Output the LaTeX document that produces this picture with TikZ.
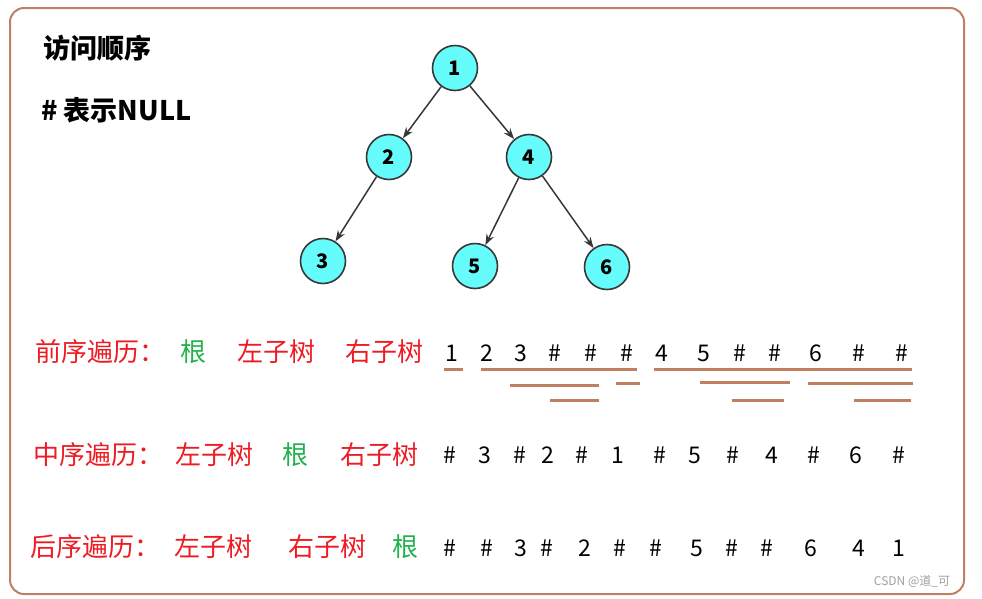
\documentclass[tikz,border=0pt]{standalone}
\usepackage{fontspec}
\setmainfont{Noto Sans CJK SC}
\usetikzlibrary{arrows.meta,positioning}

\definecolor{framebrown}{RGB}{190,128,96}
\definecolor{nodecyan}{RGB}{102,252,252}
\definecolor{edgegray}{RGB}{55,55,55}
\definecolor{labelred}{RGB}{237,28,36}
\definecolor{rootgreen}{RGB}{34,177,76}

\tikzset{
  treenode/.style = {circle, draw = edgegray, line width = 1.6pt, fill = nodecyan,
    minimum size = 45pt, inner sep = 0pt, font = \fontsize{20}{20}\selectfont\bfseries},
  treeedge/.style = {-{Stealth[length = 11pt, width = 8pt]}, draw = edgegray, line width = 1.5pt},
  caption/.style = {anchor = west, inner sep = 0pt, font = \fontsize{27}{27}\selectfont\bfseries},
  rowlabel/.style = {anchor = west, inner sep = 0pt, font = \fontsize{26}{26}\selectfont},
  seqitem/.style = {inner sep = 0pt, font = \fontsize{23}{23}\selectfont},
  span/.style = {draw = framebrown, line width = 3pt},
}

\begin{document}
\begin{tikzpicture}[x = 1pt, y = -1pt]
  \useasboundingbox (0,0) rectangle (982,598);
  \draw[framebrown, line width = 2pt, rounded corners = 14pt] (10,8) rectangle (964,594);

  % Define captions
  \node[caption] (order) at (43,48) {访问顺序};
  \node[caption] (nullnote) at (41,110) {\# 表示NULL};

  % Define tree nodes
  \node[treenode] (n1) at (455,68) {1};
  \node[treenode] (n2) at (389,157) {2};
  \node[treenode] (n4) at (529,157) {4};
  \node[treenode] (n3) at (323,261) {3};
  \node[treenode] (n5) at (475,266) {5};
  \node[treenode] (n6) at (607,267) {6};

  % Draw edges
  \draw[treeedge] (n1) -- (n2);
  \draw[treeedge] (n1) -- (n4);
  \draw[treeedge] (n2) -- (n3);
  \draw[treeedge] (n4) -- (n5);
  \draw[treeedge] (n4) -- (n6);

  % Preorder row
  \node[rowlabel, text = labelred] (pre_lbl) at (35,352) {前序遍历：};
  \node[rowlabel, text = rootgreen] (pre_root) at (180,352) {根};
  \node[rowlabel, text = labelred] (pre_left) at (237,352) {左子树};
  \node[rowlabel, text = labelred] (pre_right) at (345,352) {右子树};
  \foreach \x/\t [count = \i] in {452/1, 487/2, 521/3, 555/\#, 591/\#, 627/\#,
      662/4, 704/5, 740/\#, 775/\#, 816/6, 859/\#, 902/\#}
    \node[seqitem] (pre\i) at (\x,353) {\t};

  % Subtree spans
  \draw[span] (444,369) -- (463,369);
  \draw[span] (481,369) -- (637,369);
  \draw[span] (654,369) -- (912,369);
  \draw[span] (510,385) -- (599,385);
  \draw[span] (616,383) -- (640,383);
  \draw[span] (700,382) -- (790,382);
  \draw[span] (808,383) -- (913,383);
  \draw[span] (550,400) -- (599,400);
  \draw[span] (732,400) -- (784,400);
  \draw[span] (854,400) -- (911,400);

  % Inorder row
  \node[rowlabel, text = labelred] (in_lbl) at (33,455) {中序遍历：};
  \node[rowlabel, text = labelred] (in_left) at (175,455) {左子树};
  \node[rowlabel, text = rootgreen] (in_root) at (282,455) {根};
  \node[rowlabel, text = labelred] (in_right) at (340,455) {右子树};
  \foreach \x/\t [count = \i] in {450/\#, 485/3, 520/\#, 548/2, 582/\#, 618/1,
      660/\#, 695/5, 733/\#, 772/4, 814/\#, 856/6, 899/\#}
    \node[seqitem] (in\i) at (\x,455) {\t};

  % Postorder row
  \node[rowlabel, text = labelred] (post_lbl) at (30,547) {后序遍历：};
  \node[rowlabel, text = labelred] (post_left) at (174,547) {左子树};
  \node[rowlabel, text = labelred] (post_right) at (288,547) {右子树};
  \node[rowlabel, text = rootgreen] (post_root) at (392,547) {根};
  \foreach \x/\t [count = \i] in {450/\#, 487/\#, 521/3, 547/\#, 585/2, 620/\#,
      656/\#, 697/5, 732/\#, 767/\#, 811/6, 859/4, 899/1}
    \node[seqitem] (post\i) at (\x,548) {\t};

  \node[font = \fontsize{12}{12}\selectfont, text = gray!75, inner sep = 0pt] (mark) at (912,581) {CSDN @道\_可};
\end{tikzpicture}
\end{document}
